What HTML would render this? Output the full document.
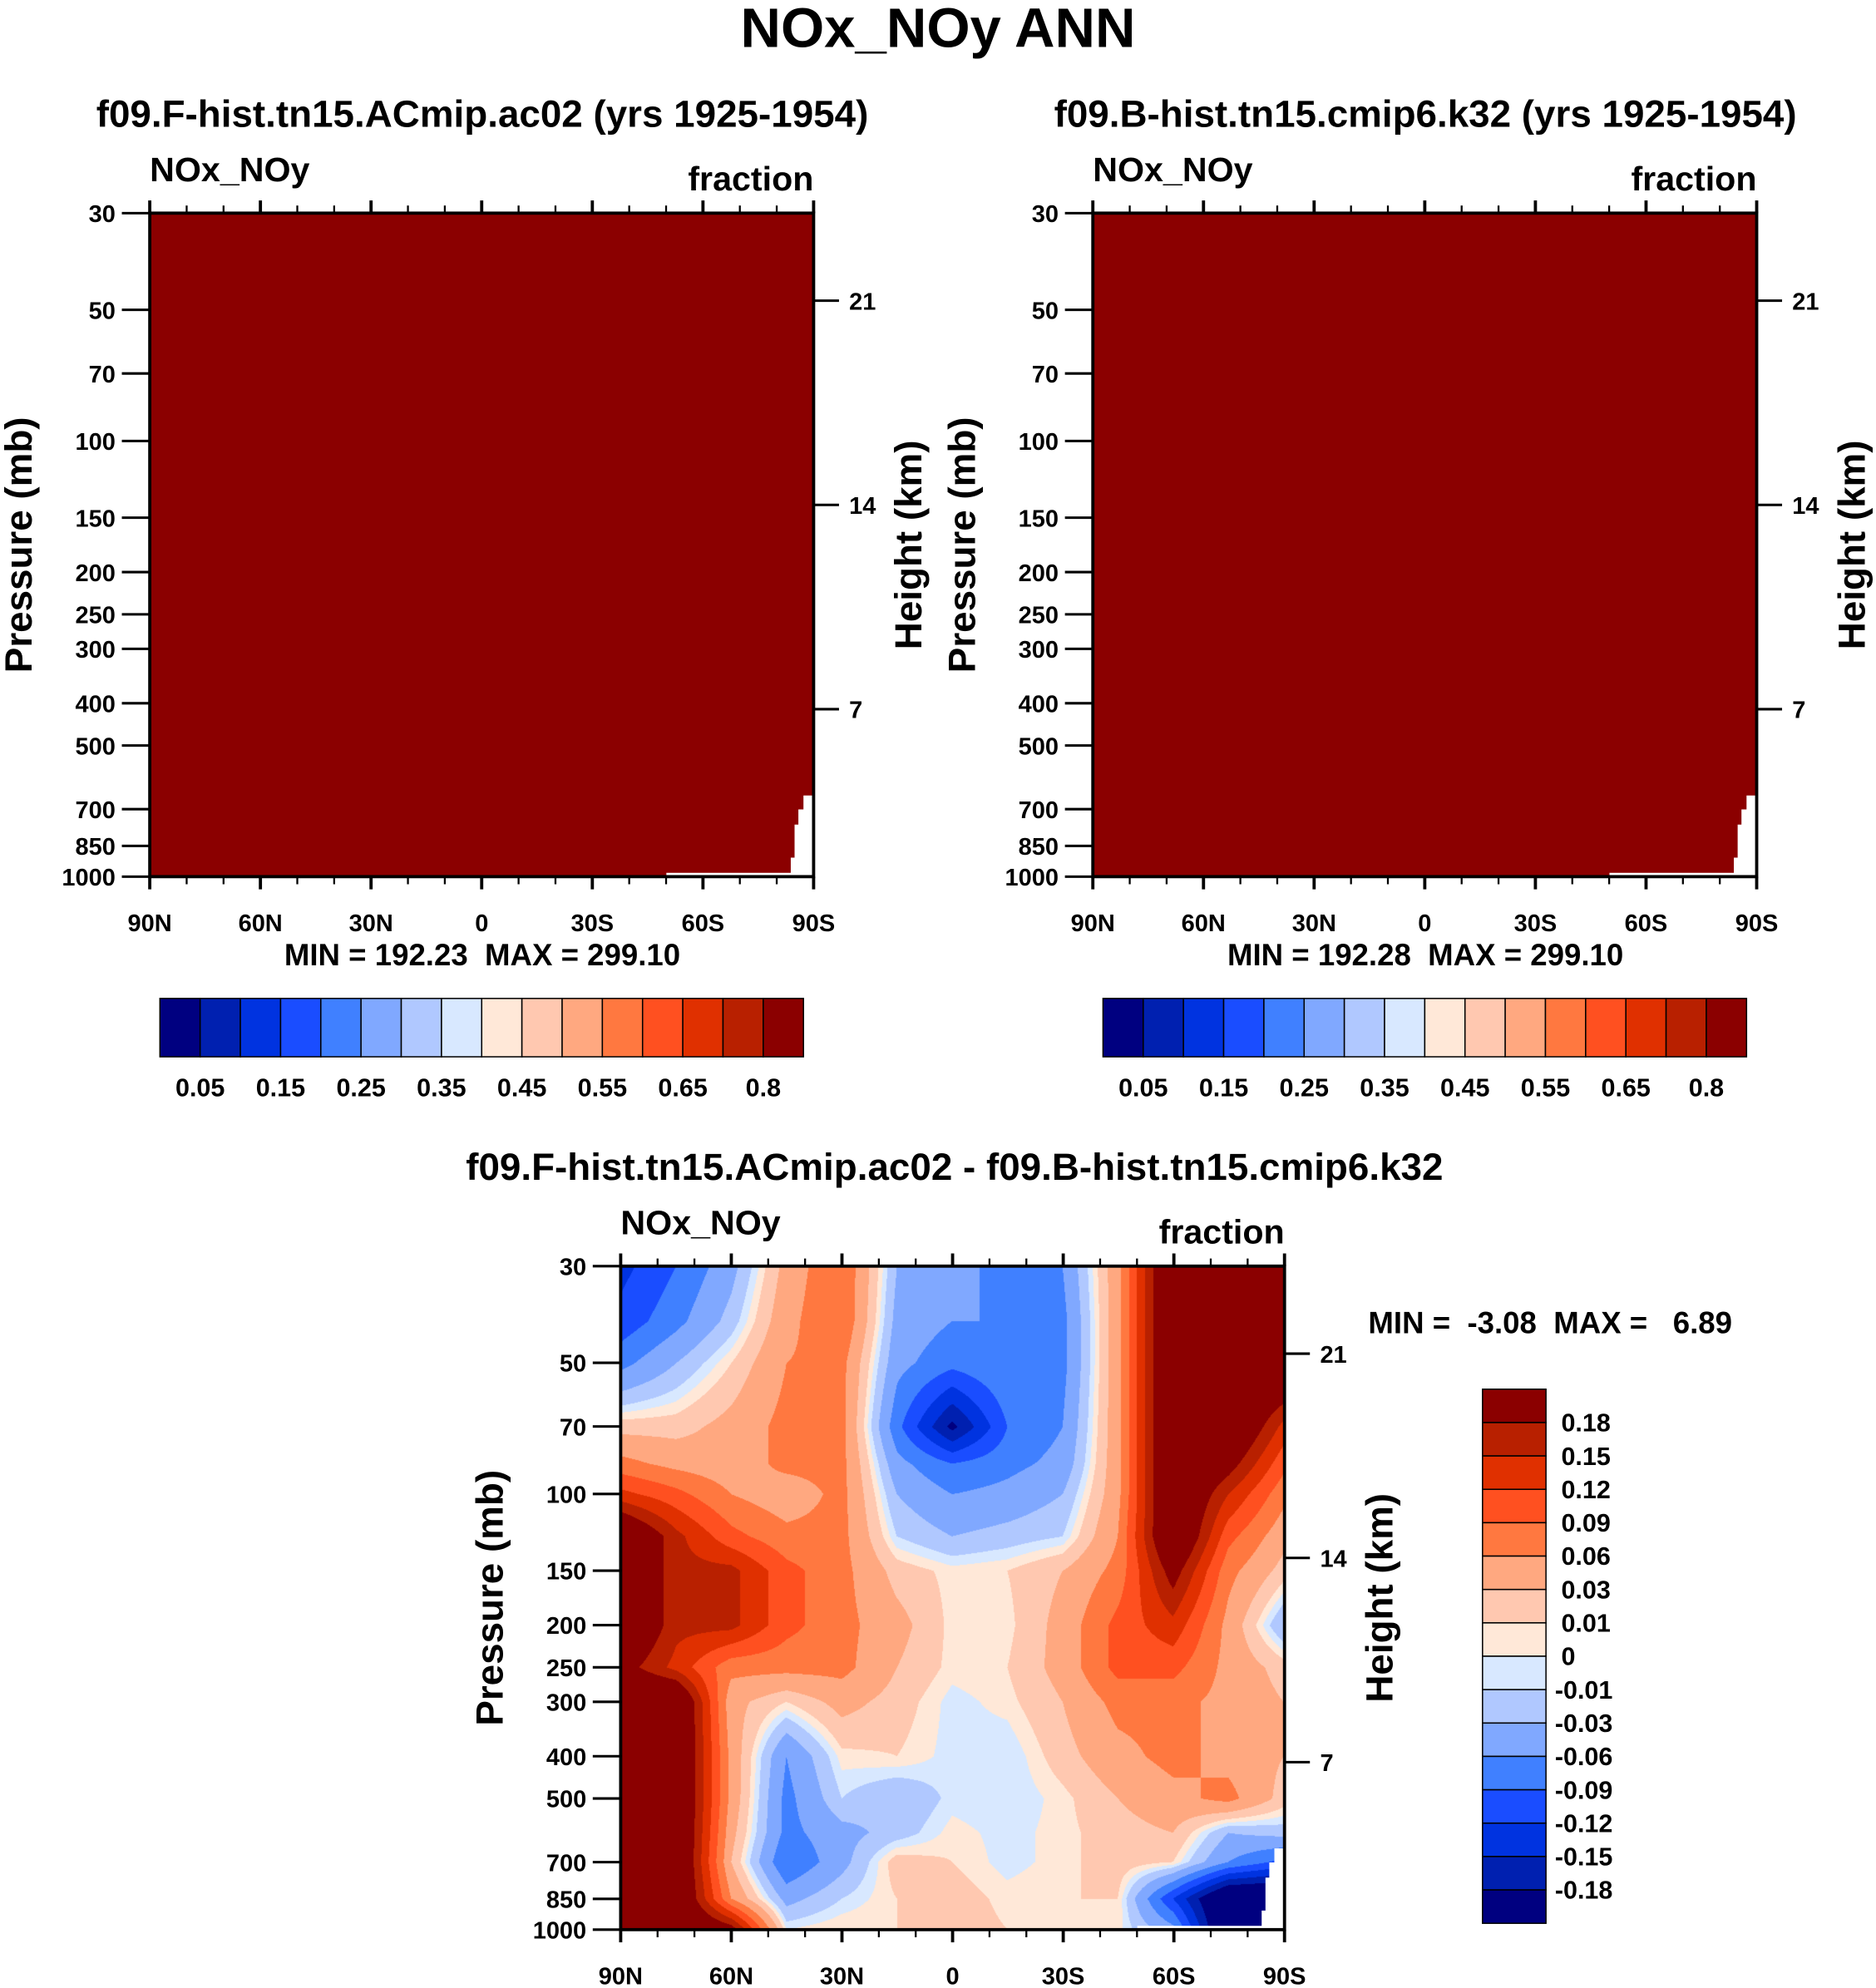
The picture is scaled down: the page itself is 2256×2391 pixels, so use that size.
<!DOCTYPE html>
<html><head><meta charset="utf-8">
<style>
html,body{margin:0;padding:0;background:#fff;}
#wrap{position:relative;width:2256px;height:2391px;overflow:hidden;}
svg{position:absolute;left:0;top:0;}
text{font-family:"Liberation Sans",sans-serif;font-weight:bold;fill:#000;white-space:pre;}
#heat{position:absolute;}
</style></head>
<body>
<div id="wrap">
<canvas id="heat"></canvas>
<svg id="fig" width="2256" height="2391" viewBox="0 0 1478 1567" preserveAspectRatio="none"></svg>
</div>
<script>
// ---- data ----
const latLabels = ["90N","60N","30N","0","30S","60S","90S"];
const pTicks = [30,50,70,100,150,200,250,300,400,500,700,850,1000];
const hTicks = [7,14,21];
const cbLabelsTop = ["0.05","0.15","0.25","0.35","0.45","0.55","0.65","0.8"];
const diffLevels = [0.18,0.15,0.12,0.09,0.06,0.03,0.01,0,-0.01,-0.03,-0.06,-0.09,-0.12,-0.15,-0.18];
const diffLevelLabels = ["0.18","0.15","0.12","0.09","0.06","0.03","0.01","0","-0.01","-0.03","-0.06","-0.09","-0.12","-0.15","-0.18"];
const palette = ["#000080","#0020b0","#0033e0","#1a4dff","#4080ff","#80a8ff","#b0c8ff","#d8e8ff","#ffe8d8","#ffc8b0","#ffa880","#ff7840","#ff5020","#e03000","#b82000","#8b0000"];
const gridLats = [90,75,60,45,30,15,0,-15,-30,-45,-60,-75,-90];
const gridP = [30,40,50,70,85,100,125,150,200,250,300,400,500,600,700,850,1000];
const diffGrid = [
[-0.13,-0.09,-0.04,0.04,0.09,-0.03,-0.05,-0.07,-0.06,0.05,0.25,0.25,0.25],
[-0.11,-0.07,-0.02,0.05,0.09,-0.04,-0.06,-0.06,-0.07,0.05,0.25,0.25,0.25],
[-0.07,-0.03,0.01,0.06,0.07,-0.05,-0.08,-0.06,-0.07,0.05,0.25,0.25,0.25],
[0.02,0.02,0.04,0.07,0.07,-0.08,-0.19,-0.09,-0.06,0.05,0.25,0.25,0.14],
[0.07,0.05,0.04,0.07,0.07,-0.05,-0.09,-0.07,-0.05,0.05,0.25,0.20,0.10],
[0.13,0.10,0.06,0.04,0.07,-0.03,-0.06,-0.05,-0.03,0.05,0.25,0.15,0.07],
[0.25,0.16,0.10,0.07,0.07,-0.01,-0.03,-0.02,-0.01,0.06,0.25,0.10,0.04],
[0.25,0.16,0.16,0.10,0.07,0.02,0.005,0.01,0.03,0.07,0.20,0.07,0.02],
[0.25,0.16,0.16,0.10,0.07,0.04,0.005,0.005,0.04,0.10,0.14,0.05,-0.03],
[0.20,0.14,0.07,0.07,0.07,0.03,0.005,0.01,0.04,0.10,0.10,0.05,0.02],
[0.25,0.25,0.04,0.01,0.04,0.02,-0.005,0.005,0.03,0.07,0.07,0.05,0.03],
[0.25,0.25,0.05,-0.06,0.005,0.01,-0.005,-0.01,0.02,0.05,0.07,0.05,0.03],
[0.25,0.25,0.05,-0.07,-0.01,-0.03,-0.005,-0.01,0.005,0.03,0.05,0.07,0.02],
[0.25,0.25,0.04,-0.07,-0.04,-0.02,0.005,-0.005,0.005,0.02,0.03,-0.03,-0.02],
[0.25,0.25,0.03,-0.09,-0.04,0.02,0.01,-0.005,0.005,0.02,0.01,-0.06,-0.10],
[0.25,0.25,0.06,-0.04,-0.01,0.01,0.02,0.005,0.01,0.01,-0.12,-0.25,-0.25],
[0.25,0.25,0.20,0.0,0.01,0.01,0.02,0.01,0.01,0.005,-0.05,-0.25,-0.25]
];

// ---- helpers ----
const NS="http://www.w3.org/2000/svg";
const svg=document.getElementById('fig');
function el(tag,attrs,parent){const e=document.createElementNS(NS,tag);for(const k in attrs)e.setAttribute(k,attrs[k]);(parent||svg).appendChild(e);return e;}
function txt(x,y,s,size,anchor,parent,extra){const t=el('text',Object.assign({x:x,y:y,'font-size':size,'text-anchor':anchor||'middle'},extra||{}),parent);t.textContent=s;return t;}

const W=523,H=523;
function yOfP(p,top){return top+Math.log(p/30)/Math.log(1000/30)*H;}
function xOfLat(lat,left){return left+(90-lat)/180*W;}
function yOfKm(km,top){return top+552-23*km;}
function levelIndex(v){let i=0;const asc=diffLevels.slice().reverse();while(i<asc.length&&v>=asc[i])i++;return i;}

txt(739,37,"NOx_NOy ANN",44,'middle',null,{});

function missingMask(left,top,g){
  const pts=[[W-8,459],[W,459],[W,523],[407,523],[407,520],[W-18,520],[W-18,508],[W-15,508],[W-15,482],[W-12,482],[W-12,470],[W-8,470]];
  el('polygon',{points:pts.map(p=>(left+p[0])+','+(top+p[1])).join(' '),fill:'#fff',},g);
}

function axes(left,top,g,name){
  el('rect',{x:left,y:top,width:W,height:H,fill:'none',stroke:'#000','stroke-width':2.5,},g);
  for(let lat=90;lat>=-90;lat-=10){
    const x=xOfLat(lat,left);const major=lat%30===0;const L=major?10:6;
    el('line',{x1:x,y1:top,x2:x,y2:top-L,stroke:'#000','stroke-width':major?2.5:1.5},g);
    el('line',{x1:x,y1:top+H,x2:x,y2:top+H+L,stroke:'#000','stroke-width':major?2.5:1.5},g);
  }
  latLabels.forEach((s,i)=>{const x=left+i*W/6;const t=txt(x,top+H+43,s,19,'middle',g);});
  pTicks.forEach(p=>{const y=yOfP(p,top);
    el('line',{x1:left-22,y1:y,x2:left,y2:y,stroke:'#000','stroke-width':2},g);
    const t=txt(left-27,y+7,String(p),19,'end',g);});
  hTicks.forEach(k=>{const y=yOfKm(k,top);
    el('line',{x1:left+W,y1:y,x2:left+W+20,y2:y,stroke:'#000','stroke-width':2},g);
    const t=txt(left+W+28,y+7,String(k),19,'start',g);});
  let t=txt(0,0,"Pressure (mb)",30,'middle',g,{transform:`translate(${left-93},${top+H/2}) rotate(-90)`});
  
  t=txt(0,0,"Height (km)",30,'middle',g,{transform:`translate(${left+W+85},${top+H/2}) rotate(-90)`});
  
  t=txt(left,top-25,"NOx_NOy",27,'start',g);
  t=txt(left+W,top-18,"fraction",27,'end',g);
}

function topPanel(left,title,mn,name){
  const g=el('g',{});
  const top=168;
  el('rect',{x:left,y:top,width:W,height:H,fill:'#8b0000',},g);
  missingMask(left,top,g);
  axes(left,top,g,name);
  let t=txt(left+262,100,title,30,'middle',g);
  t=txt(left+262,761,"MIN = "+mn+"  MAX = 299.10",24,'middle',g);
  const cb=el('g',{},g);
  const cx=left+8,bw=507/16;
  palette.forEach((c,i)=>{const r=el('rect',{x:cx+i*bw,y:787,width:bw,height:46,fill:c,stroke:'#000','stroke-width':1},cb);
    });
  cbLabelsTop.forEach((s,j)=>{const t2=txt(cx+(2*j+1)*bw,864,s,20,'middle',cb);});
}
topPanel(118,"f09.F-hist.tn15.ACmip.ac02 (yrs 1925-1954)","192.23","left-panel");
topPanel(861,"f09.B-hist.tn15.cmip6.k32 (yrs 1925-1954)","192.28","right-panel");

// ---- difference panel ----
const BL=489,BT=998;
const gd=el('g',{});
const sx=2256/1478, sy=2391/1567;
const cv=document.getElementById('heat');
const cw=Math.round(W*sx), ch=Math.round(H*sy);
cv.width=cw;cv.height=ch;
cv.style.left=(BL*sx)+'px';cv.style.top=(BT*sy)+'px';
cv.style.width=cw+'px';cv.style.height=ch+'px';
const ctx=cv.getContext('2d');
const img=ctx.createImageData(cw,ch);
const rgb=palette.map(h=>[parseInt(h.substr(1,2),16),parseInt(h.substr(3,2),16),parseInt(h.substr(5,2),16)]);
const lpG=gridP.map(p=>Math.log(p));
for(let j=0;j<ch;j++){
  const fy=j/(ch-1);
  const lp=Math.log(30)+fy*(Math.log(1000)-Math.log(30));
  let r=0;while(r<lpG.length-2&&lp>lpG[r+1])r++;
  const ty=(lp-lpG[r])/(lpG[r+1]-lpG[r]);
  for(let i=0;i<cw;i++){
    const lat=90-180*i/(cw-1);
    let c=0;while(c<gridLats.length-2&&lat<gridLats[c+1])c++;
    const tx=(gridLats[c]-lat)/(gridLats[c]-gridLats[c+1]);
    const v=(1-ty)*((1-tx)*diffGrid[r][c]+tx*diffGrid[r][c+1])+ty*((1-tx)*diffGrid[r+1][c]+tx*diffGrid[r+1][c+1]);
    const col=rgb[levelIndex(v)];
    const k=(j*cw+i)*4;img.data[k]=col[0];img.data[k+1]=col[1];img.data[k+2]=col[2];img.data[k+3]=255;
  }
}
ctx.putImageData(img,0,0);
missingMask(BL,BT,gd);
axes(BL,BT,gd,'difference-panel');
let tt=txt(752,930,"f09.F-hist.tn15.ACmip.ac02 - f09.B-hist.tn15.cmip6.k32",30,'middle',gd);

tt=txt(1078,1051,"MIN =  -3.08  MAX =   6.89",24,'start',gd);

const cb2=el('g',{},gd);
const bh=(1516-1095)/16;
palette.slice().reverse().forEach((c,i)=>{const r=el('rect',{x:1168,y:1095+i*bh,width:50,height:bh,fill:c,stroke:'#000','stroke-width':1},cb2);
  });
diffLevelLabels.forEach((s,i)=>{const t2=txt(s.startsWith('-')?1225:1230,1095+(i+1)*bh+7,s,20,'start',cb2);
  });
</script>
</body></html>
